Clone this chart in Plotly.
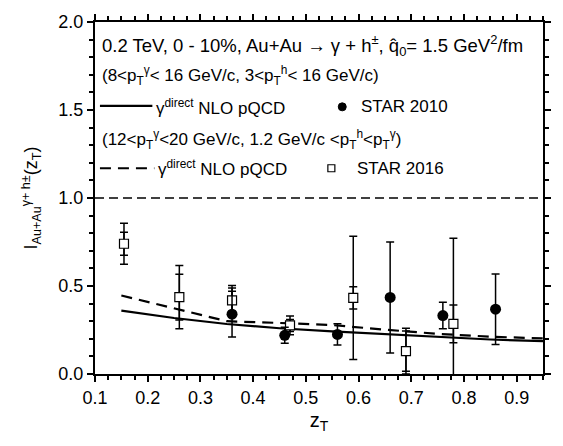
import plotly.graph_objects as go

# NLO pQCD curves (gamma-direct triggered hadron suppression)
zt_curve = [0.15, 0.25, 0.35, 0.45, 0.55, 0.65, 0.75, 0.85, 0.95]
nlo_low_pt = [0.360, 0.318, 0.284, 0.260, 0.242, 0.226, 0.208, 0.196, 0.187]
nlo_high_pt = [0.446, 0.373, 0.300, 0.290, 0.278, 0.252, 0.228, 0.212, 0.202]

# STAR 2010 data
star10_zt = [0.36, 0.46, 0.56, 0.66, 0.76, 0.86]
star10_i = [0.340, 0.220, 0.225, 0.435, 0.332, 0.368]
star10_err = [0.130, 0.045, 0.060, 0.315, 0.075, 0.200]

# STAR 2016 data (statistical and total uncertainties)
star16_zt = [0.155, 0.26, 0.36, 0.47, 0.59, 0.69, 0.78]
star16_i = [0.740, 0.437, 0.418, 0.276, 0.433, 0.130, 0.285]
star16_stat = [0.065, 0.130, 0.070, 0.034, 0.063, 0.115, 0.107]
star16_tot = [0.117, 0.180, 0.085, 0.053, 0.350, 0.130, 0.487]

FONT = "Arial, Liberation Sans, Helvetica, sans-serif"
BLACK = "#000000"

fig = go.Figure()

# reference line at unity
fig.add_trace(go.Scatter(x=[0.1, 0.95], y=[1.0, 1.0], mode="lines",
                         line=dict(color=BLACK, width=1.6, dash="9px,5px"),
                         hoverinfo="skip"))

fig.add_trace(go.Scatter(x=zt_curve, y=nlo_low_pt, mode="lines",
                         line=dict(color=BLACK, width=2.2)))
fig.add_trace(go.Scatter(x=zt_curve, y=nlo_high_pt, mode="lines",
                         line=dict(color=BLACK, width=2.2, dash="11px,7px")))

# STAR 2016: total uncertainty bars
fig.add_trace(go.Scatter(x=star16_zt, y=star16_i, mode="markers",
                         marker=dict(size=1, color="rgba(0,0,0,0)"),
                         error_y=dict(type="data", array=star16_tot, color=BLACK,
                                      thickness=1.5, width=4)))
# STAR 2016: statistical bars and markers
fig.add_trace(go.Scatter(x=star16_zt, y=star16_i, mode="markers",
                         marker=dict(symbol="square", size=9, color="white",
                                     line=dict(color=BLACK, width=1.2)),
                         error_y=dict(type="data", array=star16_stat, color=BLACK,
                                      thickness=1.5, width=4)))

# STAR 2010
fig.add_trace(go.Scatter(x=star10_zt, y=star10_i, mode="markers",
                         marker=dict(symbol="circle", size=11, color=BLACK),
                         error_y=dict(type="data", array=star10_err, color=BLACK,
                                      thickness=1.5, width=4)))

# legend block drawn inside the frame
PLOT_L, PLOT_W, PLOT_B, PLOT_H = 95, 453, 374, 361


def px(x):
    return (x - PLOT_L) / PLOT_W


def py(y):
    return (PLOT_B - y) / PLOT_H


text_lines = [
    (100, 37, 18.5, "0.2 TeV, 0 - 10%, Au+Au \u2192 \u03b3 + h<sup>\u00b1</sup>, "
                    "q\u0302<sub>0</sub>= 1.5 GeV<sup>2</sup>/fm"),
    (100, 68, 17, "(8<p<sub>T</sub><sup>\u03b3</sup>< 16 GeV/c, 3<p<sub>T</sub><sup>h</sup>< 16 GeV/c)"),
    (155, 100, 17, "\u03b3<sup>direct</sup> NLO pQCD"),
    (362, 100, 17, "STAR 2010"),
    (100, 133, 17, "(12<p<sub>T</sub><sup>\u03b3</sup><20 GeV/c, 1.2 GeV/c <p<sub>T</sub><sup>h</sup>"
                   "<p<sub>T</sub><sup>\u03b3</sup>)"),
    (157, 163, 17, "\u03b3<sup>direct</sup> NLO pQCD"),
    (358, 163, 17, "STAR 2016"),
]
for x, y, size, t in text_lines:
    fig.add_annotation(x=px(x), y=py(y), xref="paper", yref="paper", text=t,
                       showarrow=False, xanchor="left", yanchor="middle",
                       font=dict(family=FONT, size=size, color=BLACK))

fig.add_shape(type="line", xref="paper", yref="paper", x0=px(100), x1=px(153),
              y0=py(99), y1=py(99), line=dict(color=BLACK, width=2.2))
fig.add_shape(type="line", xref="paper", yref="paper", x0=px(100), x1=px(155),
              y0=py(163), y1=py(163), line=dict(color=BLACK, width=2.2, dash="11px,7px"))
fig.add_shape(type="circle", xref="paper", yref="paper", xsizemode="pixel",
              ysizemode="pixel", xanchor=px(345), yanchor=py(100),
              x0=-4, x1=4, y0=-4, y1=4, fillcolor=BLACK, line=dict(color=BLACK, width=1))
fig.add_shape(type="rect", xref="paper", yref="paper", xsizemode="pixel",
              ysizemode="pixel", xanchor=px(334), yanchor=py(163),
              x0=-3.5, x1=3.5, y0=-3.5, y1=3.5, fillcolor="white",
              line=dict(color=BLACK, width=1.2))

axis_common = dict(showgrid=False, zeroline=False, showline=True, linecolor=BLACK,
                   linewidth=2, mirror="ticks", ticks="outside", ticklen=6,
                   tickwidth=1.5, tickcolor=BLACK,
                   tickfont=dict(family=FONT, size=18, color=BLACK))

fig.update_xaxes(range=[0.1, 0.95], dtick=0.1, tick0=0.1, tickformat=".1f",
                 minor=dict(dtick=0.025, tick0=0.1, ticks="outside", ticklen=4,
                            tickwidth=1.5, tickcolor=BLACK),
                 title=dict(text="z<sub>T</sub>", standoff=6,
                            font=dict(family=FONT, size=20, color=BLACK)),
                 **axis_common)
fig.update_yaxes(range=[0, 2.0], dtick=0.5, tick0=0, tickformat=".1f",
                 minor=dict(dtick=0.1, tick0=0, ticks="outside", ticklen=4,
                            tickwidth=1.5, tickcolor=BLACK),
                 title=dict(text="I<sub>Au+Au</sub><sup>\u03b3+ h\u00b1</sup>(z<sub>T</sub>)",
                            standoff=16,
                            font=dict(family=FONT, size=18, color=BLACK)),
                 **axis_common)

fig.update_layout(width=563, height=446, showlegend=False,
                  margin=dict(l=95, r=15, t=13, b=72),
                  plot_bgcolor="white", paper_bgcolor="white",
                  font=dict(family=FONT, color=BLACK))

fig.write_html("out.html")
